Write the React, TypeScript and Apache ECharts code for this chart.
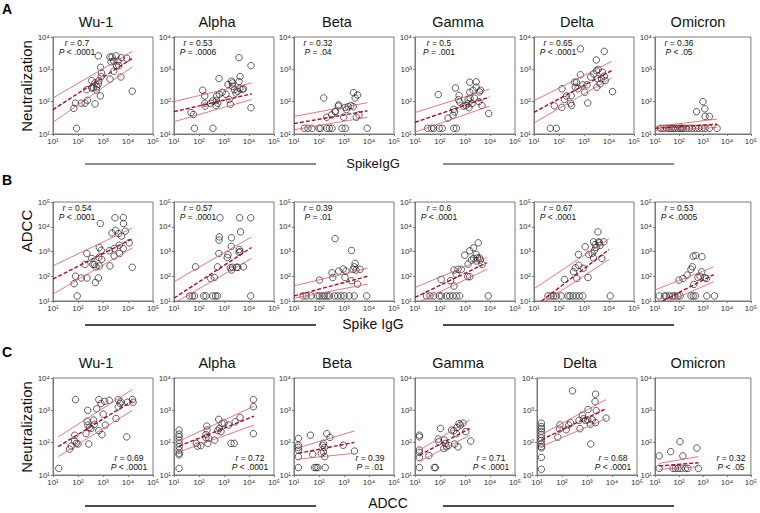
import React, { useEffect, useRef } from 'react';
import * as echarts from 'echarts';

type P = [number, number];

const VARIANTS = ['Wu-1', 'Alpha', 'Beta', 'Gamma', 'Delta', 'Omicron'];
const X_TITLES = ['SpikeIgG', 'Spike IgG', 'ADCC'];
const Y_TITLES = ['Neutralization', 'ADCC', 'Neutralization'];
const ROW_LETTERS = ['A', 'B', 'C'];
const Y_MAX = [1e4, 1e5, 1e4];

// ---------- Row A : Neutralization vs Spike IgG ----------
const A_WU1: P[] = [[650,2600],[87,15],[68,62],[80,90],[135,90],[190,90],[240,110],[225,235],[355,450],[355,265],[480,380],[560,290],[650,350],[680,440],[840,590],[870,770],[800,1150],[780,150],[480,85],[1900,500],[2100,1700],[1900,2400],[2300,2400],[2700,1800],[3300,2600],[4000,1800],[4300,1300],[5500,2300],[8900,2200],[5200,580],[14800,210],[2700,870],[3500,1300],[550,230],[420,270]];
const A_ALPHA: P[] = [[48,46],[60,40],[66,15],[360,15],[140,225],[170,150],[170,89],[175,73],[290,89],[355,105],[500,110],[510,150],[480,76],[560,89],[650,170],[630,520],[850,195],[1200,170],[1450,340],[1600,117],[1800,83],[2000,430],[2200,300],[2600,235],[3000,185],[3500,210],[4000,2300],[4400,600],[4000,420],[4300,260],[5400,240],[6000,250],[12000,1300],[12000,65],[2200,380]];
const A_BETA: P[] = [[155,130],[26,15],[36,15],[52,15],[100,15],[115,15],[205,15],[260,15],[330,15],[830,15],[1130,15],[8500,15],[205,33],[320,39],[440,50],[455,49],[590,73],[615,79],[1100,66],[980,33],[1260,57],[1480,70],[1900,76],[2350,70],[2400,190],[2800,130],[3100,33],[3500,160],[4000,39]];
const A_GAMMA: P[] = [[32,15],[46,15],[56,15],[93,15],[123,15],[355,15],[455,15],[85,166],[210,31],[330,38],[380,48],[355,58],[415,265],[550,115],[580,155],[620,97],[850,73],[1070,76],[1320,87],[1320,115],[1450,65],[1550,195],[1600,128],[1550,400],[2100,225],[2400,128],[2800,410],[2800,280],[3800,200],[4200,225],[3600,100],[4800,76],[8900,43],[1900,87]];
const A_DELTA: P[] = [[720,4300],[6500,3600],[45,15],[78,15],[65,74],[132,250],[130,67],[165,117],[200,150],[290,89],[320,76],[310,155],[420,400],[500,400],[450,280],[575,250],[720,680],[910,330],[1070,195],[1320,330],[1410,91],[1860,575],[2450,720],[3160,910],[3100,1950],[3500,510],[3250,280],[3700,1000],[4400,355],[5000,510],[5500,810],[6500,615],[7100,450],[13800,205]];
const A_OMICRON: P[] = [[17,15],[22,15],[30,15],[38,15],[47,15],[58,15],[69,15],[90,15],[113,15],[130,15],[146,15],[200,15],[265,15],[355,15],[490,15],[665,15],[910,15],[1230,15],[1860,15],[3900,15],[540,49],[1000,100],[1200,60],[1230,35],[1860,35]];

const A_POINTS = [A_WU1, A_ALPHA, A_BETA, A_GAMMA, A_DELTA, A_OMICRON];
const A_FIT: P[][] = [[[10,57],[15000,2200]],[[10,49],[13000,175]],[[10,21],[8700,52]],[[10,23],[9500,140]],[[10,47],[12600,910]],[[10,15],[3900,20]]];
const A_HI: P[][] = [[[10,130],[15000,3600]],[[10,100],[13000,380]],[[10,35],[8700,93]],[[10,46],[9500,245]],[[10,107],[12600,1740]],[[10,17],[3900,29]]];
const A_LO: P[][] = [[[10,23],[15000,1200]],[[10,24],[13000,117]],[[10,13.5],[8700,33]],[[10,11.5],[9500,73]],[[10,22],[12600,540]],[[10,12.7],[3900,16]]];
const A_R = ['0.7', '0.53', '0.32', '0.5', '0.65', '0.36'];
const A_P = ['< .0001', '= .0006', '= .04', '= .001', '< .0001', '< .05'];

// ---------- Row B : ADCC vs Spike IgG ----------
const B_WU1: P[] = [[93,16],[70,50],[80,100],[135,85],[230,85],[225,830],[190,300],[355,525],[390,300],[455,300],[525,240],[500,56],[650,85],[680,575],[710,1450],[850,1120],[890,480],[780,13500],[710,260],[1900,260],[1800,1070],[2300,5600],[3000,23000],[2800,1320],[2800,650],[3200,7200],[4200,5300],[4500,1800],[4600,830],[5500,4200],[6500,23400],[6600,13500],[6500,1320],[7800,6600],[11200,2240],[14800,230]];
const B_ALPHA: P[] = [[42,16],[54,16],[66,16],[155,16],[190,16],[355,16],[455,16],[550,16],[11700,16],[73,240],[295,81],[415,89],[550,240],[620,830],[630,2900],[650,3900],[690,23000],[1350,575],[1450,740],[1950,1600],[2000,3600],[2000,178],[1800,220],[2200,230],[3160,230],[3600,230],[4100,1200],[4000,930],[4400,1000],[4200,23000],[4600,6200],[6000,240],[11700,23000]];
const B_BETA: P[] = [[23,16],[31,16],[49,16],[85,16],[105,16],[135,16],[166,16],[210,16],[260,16],[415,16],[560,16],[760,16],[1020,16],[1620,16],[2570,16],[8100,16],[105,70],[330,138],[355,89],[440,3300],[615,162],[930,195],[1200,162],[1100,89],[2000,1100],[2000,66],[2350,190],[2570,240],[2800,330],[3000,178],[3500,48],[4400,190]];
const B_GAMMA: P[] = [[29,16],[40,16],[56,16],[93,16],[115,16],[182,16],[245,16],[330,16],[455,16],[615,16],[8500,16],[112,74],[263,66],[363,40],[363,178],[440,123],[525,190],[710,190],[980,710],[1320,310],[1290,96],[1550,96],[1550,1070],[1800,450],[2200,1400],[2200,525],[2800,760],[2800,415],[3160,550],[3400,2240],[3800,550],[4100,450],[4800,300]];
const B_DELTA: P[] = [[36,16],[49,16],[60,16],[78,16],[123,16],[225,16],[275,16],[355,16],[480,16],[650,16],[890,16],[11200,16],[166,74],[380,151],[455,220],[515,81],[615,275],[600,760],[930,210],[1120,1550],[1450,89],[1550,760],[2100,830],[2400,550],[2400,2450],[2630,1120],[3000,1450],[2800,1900],[3600,6200],[3900,2450],[4100,2240],[4400,1780],[5200,525],[6200,2450]];
const B_OMICRON: P[] = [[15,16],[25,16],[29,16],[40,16],[54,16],[68,16],[91,16],[112,16],[316,16],[390,16],[480,16],[1450,16],[3000,16],[100,70],[148,81],[220,112],[316,190],[363,240],[390,650],[500,690],[415,47],[615,89],[760,100],[890,151],[910,615],[1200,87],[1410,81]];

const B_POINTS = [B_WU1, B_ALPHA, B_BETA, B_GAMMA, B_DELTA, B_OMICRON];
const B_FIT: P[][] = [[[10,77],[15000,3300]],[[10,13],[12600,1450]],[[10,16],[8700,100]],[[10,14],[7400,350]],[[20,10],[10000,1200]],[[21,10],[2800,117]]];
const B_HI: P[][] = [[[10,265],[15000,8900]],[[10,60],[12600,3900]],[[10,41],[8700,210]],[[10,35],[7400,575]],[[10,31],[10000,3300]],[[10,28],[2800,240]]];
const B_LO: P[][] = [[[10,19],[15000,1400]],[[14,10],[12600,525]],[[10,13],[8700,48]],[[17,10],[7400,190]],[[29,10],[10000,480]],[[40,10],[2800,60]]];
const B_R = ['0.54', '0.57', '0.39', '0.6', '0.67', '0.53'];
const B_P = ['< .0001', '= .0001', '= .01', '< .0001', '< .0001', '< .0005'];

// ---------- Row C : Neutralization vs ADCC ----------
const C_WU1: P[] = [[17,16],[46,63],[54,78],[73,112],[74,170],[85,95],[100,91],[80,2150],[210,190],[230,460],[245,1000],[270,91],[245,350],[290,295],[330,275],[425,500],[455,370],[560,1120],[680,2150],[680,235],[830,1620],[910,178],[1020,760],[1170,1900],[1230,350],[1780,2040],[3300,560],[4100,2150],[4100,1290],[4800,1620],[5200,1820],[8900,151],[9500,1780],[15100,2150],[16000,1780]];
const C_ALPHA: P[] = [[16,245],[16,182],[16,151],[16,120],[16,95],[16,75],[16,59],[16,47],[16,42],[16,16],[78,95],[87,78],[118,81],[190,178],[190,141],[210,245],[205,325],[225,95],[245,135],[425,120],[560,235],[615,525],[650,275],[760,220],[830,390],[1020,405],[1550,350],[1900,95],[2570,95],[2800,440],[4400,600],[15000,2150],[15000,1290],[15000,190]];
const C_BETA: P[] = [[15,135],[15,71],[15,59],[15,83],[15,37],[15,17],[45,170],[56,44],[66,17],[77,17],[90,17],[123,47],[141,83],[151,95],[151,52],[166,71],[170,37],[178,17],[205,190],[275,145],[930,83],[2630,55]];
const C_GAMMA: P[] = [[15,170],[15,151],[15,59],[15,50],[15,35],[15,17],[36,40],[59,17],[66,17],[105,275],[85,129],[89,107],[148,120],[166,95],[141,66],[182,74],[220,83],[290,245],[355,235],[455,190],[480,295],[575,390],[650,350],[830,405],[525,74],[390,91],[1070,220],[1700,112]];
const C_DELTA: P[] = [[15,400],[15,316],[15,270],[15,225],[15,178],[15,141],[15,117],[15,91],[15,76],[15,69],[15,35],[15,15],[68,148],[79,263],[83,355],[148,250],[186,355],[220,415],[263,4000],[480,490],[525,270],[660,710],[725,550],[870,490],[1100,1050],[1070,510],[1380,370],[1410,91],[1620,510],[2100,1860],[2200,3160],[2350,980],[2200,415],[5800,575]];
const C_OMICRON: P[] = [[15,39],[15,16],[45,53],[57,16],[71,16],[91,16],[110,107],[145,39],[125,16],[186,16],[235,16],[560,68],[645,16]];

const C_POINTS = [C_WU1, C_ALPHA, C_BETA, C_GAMMA, C_DELTA, C_OMICRON];
const C_FIT: P[][] = [[[16,75],[15000,1950]],[[16,78],[16000,660]],[[15,47],[2600,102]],[[15,41],[1550,275]],[[15,123],[5800,1120]],[[15,19],[650,24]]];
const C_HI: P[][] = [[[16,150],[15000,4400]],[[16,112],[16000,1350]],[[15,70],[2600,230]],[[15,59],[1550,500]],[[15,178],[5800,2150]],[[15,23],[650,37]]];
const C_LO: P[][] = [[[16,37],[15000,1000]],[[16,52],[16000,350]],[[15,31],[2600,47]],[[15,26],[1550,170]],[[15,76],[5800,550]],[[15,15],[650,18]]];
const C_R = ['0.69', '0.72', '0.39', '0.71', '0.68', '0.32'];
const C_P = ['< .0001', '< .0001', '= .01', '< .0001', '< .0001', '< .05'];

const ROWS = [
  { pts: A_POINTS, fit: A_FIT, hi: A_HI, lo: A_LO, r: A_R, p: A_P },
  { pts: B_POINTS, fit: B_FIT, hi: B_HI, lo: B_LO, r: B_R, p: B_P },
  { pts: C_POINTS, fit: C_FIT, hi: C_HI, lo: C_LO, r: C_R, p: C_P },
];

// ---------- layout ----------
const FONT = 'Liberation Sans, Arial, Helvetica, sans-serif';
const LEFTS = [
  [53, 174, 294, 415, 534, 655],
  [53, 174, 294, 415, 534, 655],
  [53, 174, 294, 415, 537, 655],
];
const PW = 100;
const TOPS = [37, 202, 378];
const HEIGHTS = [97, 99, 97];
const SUP: Record<number, string> = { 1: '\u00b9', 2: '\u00b2', 3: '\u00b3', 4: '\u2074', 5: '\u2075' };
const fmt = (v: number) => '10' + (SUP[Math.round(Math.log10(v))] || '');

function buildOption() {
  const grid: any[] = [];
  const xAxis: any[] = [];
  const yAxis: any[] = [];
  const series: any[] = [];
  const graphic: any[] = [];
  const axisCommon = {
    type: 'log',
    logBase: 10,
    axisLine: { show: true, lineStyle: { color: '#7a7a7a', width: 1 } },
    axisTick: { show: true, length: 2, lineStyle: { color: '#7a7a7a' } },
    splitLine: { show: false },
    axisLabel: { fontSize: 8, color: '#333', fontFamily: FONT, margin: 3, formatter: fmt, showMinLabel: true, showMaxLabel: true },
  };
  ROWS.forEach((row, ri) => {
    for (let ci = 0; ci < 6; ci++) {
      const gi = ri * 6 + ci;
      const left = LEFTS[ri][ci];
      const top = TOPS[ri];
      grid.push({ left, top, width: PW, height: HEIGHTS[ri], show: true, borderColor: '#7a7a7a', borderWidth: 1, backgroundColor: 'transparent' });
      xAxis.push({ ...axisCommon, gridIndex: gi, min: 10, max: 1e5 });
      yAxis.push({ ...axisCommon, gridIndex: gi, min: 10, max: Y_MAX[ri] });
      series.push({
        type: 'scatter', xAxisIndex: gi, yAxisIndex: gi, data: row.pts[ci], symbol: 'circle', symbolSize: 6.5,
        itemStyle: { color: 'rgba(255,255,255,0)', borderColor: '#222', borderWidth: 0.9 }, silent: true, z: 2,
      });
      const lineBase = { type: 'line', xAxisIndex: gi, yAxisIndex: gi, symbol: 'none', showSymbol: false, silent: true, z: 3, clip: true };
      series.push({ ...lineBase, data: row.hi[ci], lineStyle: { color: '#e4555c', width: 0.8 } });
      series.push({ ...lineBase, data: row.lo[ci], lineStyle: { color: '#e4555c', width: 0.8 } });
      series.push({ ...lineBase, data: row.fit[ci], lineStyle: { color: '#c00018', width: 1.4, type: [4, 2] } });
      // annotation
      const rich = { i: { fontStyle: 'italic', fontSize: 8.5, fontFamily: FONT, fill: '#111' } };
      const ax = ri < 2 ? left + 24 : left + 76;
      const ay1 = ri < 2 ? top + 6 : top + 80;
      graphic.push({ type: 'text', x: ax, y: ay1, silent: true, style: { text: '{i|r} = ' + row.r[ci], rich, fontSize: 8.5, fontFamily: FONT, fill: '#111', align: 'center', textAlign: 'center', verticalAlign: 'middle', textVerticalAlign: 'middle' } });
      graphic.push({ type: 'text', x: ax, y: ay1 + 8.5, silent: true, style: { text: '{i|P} ' + row.p[ci], rich, fontSize: 8.5, fontFamily: FONT, fill: '#111', align: 'center', textAlign: 'center', verticalAlign: 'middle', textVerticalAlign: 'middle' } });
      if (ri !== 1) {
        graphic.push({ type: 'text', x: left + 43, y: ri === 0 ? 22 : 363, silent: true, style: { text: VARIANTS[ci], fontSize: 14.5, fontFamily: FONT, fill: '#111', align: 'center', textAlign: 'center', verticalAlign: 'middle', textVerticalAlign: 'middle' } });
      }
    }
  });
  // row labels, axis titles, separators
  const yCenters = [86, 231, 427];
  const xTitleY = [163, 324, 503];
  const lineY = [164, 325, 506];
  const xTitleX = [373, 373, 388];
  const xTitleSize = [13, 14, 14];
  const lineColors = ['#666', '#111', '#111'];
  const letterY = [9, 180, 352];
  for (let ri = 0; ri < 3; ri++) {
    graphic.push({ type: 'text', x: 2, y: letterY[ri], silent: true, style: { text: ROW_LETTERS[ri], fontSize: 14, fontWeight: 'bold', fontFamily: FONT, fill: '#000', align: 'left', textAlign: 'left', verticalAlign: 'middle', textVerticalAlign: 'middle' } });
    graphic.push({ type: 'text', x: 26, y: yCenters[ri], rotation: Math.PI / 2, silent: true, style: { text: Y_TITLES[ri], fontSize: 15, fontFamily: FONT, fill: '#111', align: 'center', textAlign: 'center', verticalAlign: 'middle', textVerticalAlign: 'middle' } });
    graphic.push({ type: 'text', x: xTitleX[ri], y: xTitleY[ri], silent: true, style: { text: X_TITLES[ri], fontSize: xTitleSize[ri], fontFamily: FONT, fill: '#111', align: 'center', textAlign: 'center', verticalAlign: 'middle', textVerticalAlign: 'middle' } });
    const ly = lineY[ri];
    graphic.push({ type: 'line', silent: true, shape: { x1: 85, y1: ly, x2: 316, y2: ly }, style: { stroke: lineColors[ri], lineWidth: 1.5 } });
    graphic.push({ type: 'line', silent: true, shape: { x1: 443, y1: ly, x2: 674, y2: ly }, style: { stroke: lineColors[ri], lineWidth: 1.5 } });
  }
  return { animation: false, backgroundColor: '#fff', grid, xAxis, yAxis, series, graphic };
}

export default function App() {
  const ref = useRef<HTMLDivElement>(null);
  useEffect(() => {
    document.body.style.margin = '0';
    if (!ref.current) return;
    const chart = echarts.init(ref.current, null, { renderer: 'svg' });
    chart.setOption(buildOption() as any);
    return () => chart.dispose();
  }, []);
  return <div ref={ref} style={{ width: 760, height: 513 }} />;
}
